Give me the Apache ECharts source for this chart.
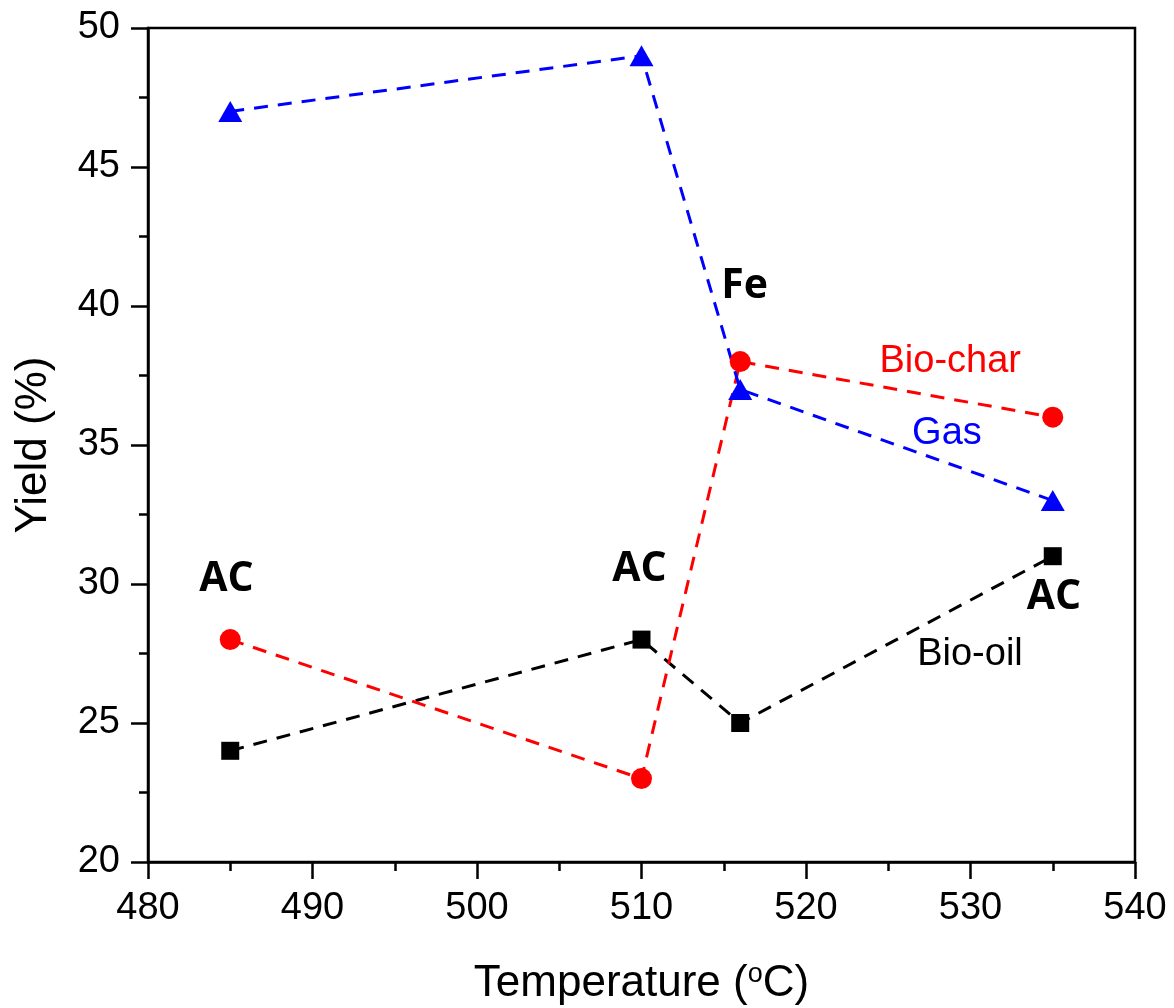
<!DOCTYPE html>
<html>
<head>
<meta charset="utf-8">
<script src="https://cdn.jsdelivr.net/npm/echarts@6/dist/echarts.min.js"></script>
<style>
  html, body { margin: 0; padding: 0; background: #ffffff; }
  #chart { width: 1174px; height: 1008px; }
</style>
</head>
<body>
<div id="chart"></div>
<script>
// Reaction temperatures (°C) for each run
const temperatures = [485, 510, 516, 535];

// Product yields (%) at each temperature
const bioOil  = [24, 28, 25, 31];
const bioChar = [28, 23, 38, 36];
const gas     = [47, 49, 37, 33];

// Catalyst labels and series names placed in data coordinates
const catalystNotes = [
  { text: 'AC', x: 484.8, y: 30.15 },
  { text: 'AC', x: 509.9, y: 30.5 },
  { text: 'Fe', x: 516.3, y: 40.7 },
  { text: 'AC', x: 535.1, y: 29.5 }
];
const seriesNotes = [
  { text: 'Bio-char', x: 528.8, y: 38.0, color: '#ff0000' },
  { text: 'Gas',      x: 528.6, y: 35.4, color: '#0000ff' },
  { text: 'Bio-oil',  x: 530.0, y: 27.45, color: '#000000' }
];

const xTicks = { min: 480, max: 540, step: 10 };
const yTicks = { min: 20, max: 50, step: 5 };

const pair = (xs, ys) => xs.map((x, i) => [x, ys[i]]);

const FONT = '"Liberation Sans", Arial, sans-serif';

function lineSeries(name, values, color, symbol, size) {
  return {
    name: name,
    type: 'line',
    data: pair(temperatures, values),
    symbol: symbol,
    symbolSize: size,
    showAllSymbol: true,
    itemStyle: { color: color, opacity: 1 },
    lineStyle: { color: color, width: 3, type: [14, 10] },
    emphasis: { disabled: true },
    z: 3
  };
}

function textSeries(name, notes, font, weight, size) {
  return {
    name: name,
    type: 'scatter',
    symbolSize: 1,
    silent: true,
    z: 5,
    itemStyle: { opacity: 0 },
    emphasis: { disabled: true },
    data: notes.map(n => ({
      value: [n.x, n.y], name: n.text,
      label: { color: n.color || '#000000' }
    })),
    label: {
      show: true,
      position: [0, 0],
      align: 'center',
      verticalAlign: 'middle',
      formatter: p => p.name,
      fontFamily: font, fontWeight: weight, fontSize: size,
      opacity: 1,
      textBorderWidth: 0
    },
    labelLayout: { hideOverlap: false }
  };
}

const axisCommon = {
  type: 'value',
  nameLocation: 'middle',
  axisLine: { show: true, onZero: false, lineStyle: { color: '#000000', width: 2.5 } },
  axisTick: { show: true, inside: false, length: 17, lineStyle: { color: '#000000', width: 2.5 } },
  minorTick: { show: true, splitNumber: 2, length: 9, lineStyle: { color: '#000000', width: 2.5 } },
  axisLabel: { fontFamily: FONT, fontSize: 38, color: '#000000', margin: 28 },
  splitLine: { show: false }
};

const chart = echarts.init(document.getElementById('chart'), null, { renderer: 'canvas' });

chart.setOption({
  animation: false,
  backgroundColor: '#ffffff',
  grid: {
    left: 148, right: 39, top: 28, bottom: 146,
    show: true, borderColor: '#000000', borderWidth: 2.5,
    containLabel: false,
    outerBoundsMode: 'none'
  },
  xAxis: Object.assign({}, axisCommon, {
    min: xTicks.min, max: xTicks.max, interval: xTicks.step,
    name: 'Temperature ({sup|o}C)',
    nameGap: 99,
    nameTextStyle: {
      fontFamily: FONT, fontSize: 44, color: '#000000',
      rich: { sup: { fontFamily: FONT, fontSize: 27, verticalAlign: 'top', padding: [0, 0, 18, 0], color: '#000000' } }
    }
  }),
  yAxis: Object.assign({}, axisCommon, {
    min: yTicks.min, max: yTicks.max, interval: yTicks.step,
    name: 'Yield (%)',
    nameGap: 92,
    nameRotate: 90,
    nameTextStyle: { fontFamily: FONT, fontSize: 44, color: '#000000' }
  }),
  series: [
    lineSeries('Bio-oil', bioOil, '#000000', 'rect', 18),
    lineSeries('Bio-char', bioChar, '#ff0000', 'circle', 21),
    lineSeries('Gas', gas, '#0000ff', 'triangle', [24, 21]),
    textSeries('catalyst', catalystNotes, '"Open Sans", "Noto Sans", sans-serif', 'bold', 41),
    textSeries('series-names', seriesNotes, FONT, 'normal', 38)
  ]
});
</script>
</body>
</html>
